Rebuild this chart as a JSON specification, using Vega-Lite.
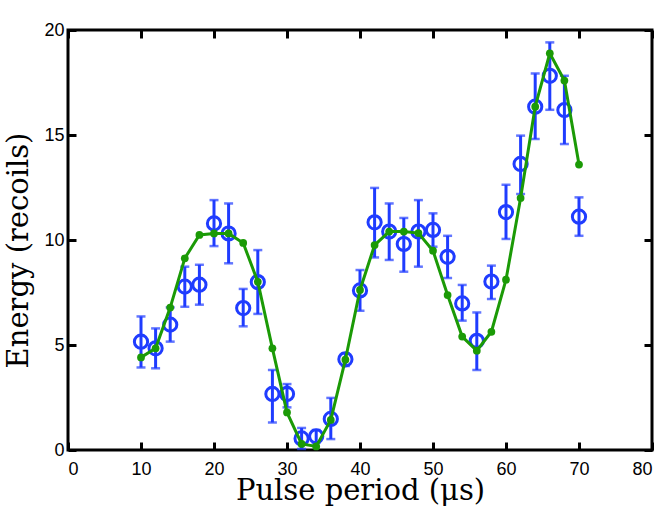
{
  "$schema": "https://vega.github.io/schema/vega-lite/v6.json",
  "width": 584,
  "height": 420,
  "autosize": {"type": "none"},
  "padding": {"left": 68, "top": 30, "right": 12, "bottom": 71},
  "background": "white",
  "config": {
    "view": {"stroke": "black", "strokeWidth": 3},
    "axis": {
      "domain": false,
      "grid": false,
      "ticks": true,
      "tickColor": "black",
      "tickWidth": 3,
      "tickSize": 8,
      "labelFont": "Liberation Sans",
      "labelFontSize": 18,
      "labelColor": "black",
      "titleFont": "DejaVu Serif",
      "titleFontSize": 29,
      "titleFontWeight": "normal",
      "titleColor": "black"
    }
  },
  "data": {
    "values": [
      {"x": 10, "e": 5.16, "lo": 3.93, "hi": 6.36, "fit": 4.41},
      {"x": 12, "e": 4.84, "lo": 3.89, "hi": 5.79, "fit": 4.84},
      {"x": 14, "e": 5.97, "lo": 5.16, "hi": 6.79, "fit": 6.78},
      {"x": 16, "e": 7.78, "lo": 6.82, "hi": 8.73, "fit": 9.13},
      {"x": 18, "e": 7.87, "lo": 6.92, "hi": 8.82, "fit": 10.24},
      {"x": 20, "e": 10.79, "lo": 9.71, "hi": 11.9, "fit": 10.31},
      {"x": 22, "e": 10.31, "lo": 8.89, "hi": 11.74, "fit": 10.31},
      {"x": 24, "e": 6.76, "lo": 5.89, "hi": 7.67, "fit": 9.86},
      {"x": 26, "e": 8.0, "lo": 6.48, "hi": 9.52, "fit": 8.01},
      {"x": 28, "e": 2.67, "lo": 1.31, "hi": 3.81, "fit": 4.84},
      {"x": 30, "e": 2.67, "lo": 2.03, "hi": 3.14, "fit": 1.79},
      {"x": 32, "e": 0.55, "lo": 0.05, "hi": 1.05, "fit": 0.29},
      {"x": 34, "e": 0.65, "lo": 0.35, "hi": 0.95, "fit": 0.17},
      {"x": 36, "e": 1.48, "lo": 0.52, "hi": 2.48, "fit": 1.43},
      {"x": 38, "e": 4.32, "lo": 4.0, "hi": 4.6, "fit": 4.3},
      {"x": 40, "e": 7.6, "lo": 6.63, "hi": 8.57, "fit": 7.62},
      {"x": 42, "e": 10.84, "lo": 9.17, "hi": 12.48, "fit": 9.76},
      {"x": 44, "e": 10.4, "lo": 9.05, "hi": 11.74, "fit": 10.4},
      {"x": 46, "e": 9.81, "lo": 8.49, "hi": 11.05, "fit": 10.4},
      {"x": 48, "e": 10.4, "lo": 8.73, "hi": 11.9, "fit": 10.33},
      {"x": 50, "e": 10.48, "lo": 9.68, "hi": 11.27, "fit": 9.49},
      {"x": 52, "e": 9.2, "lo": 8.19, "hi": 10.2, "fit": 7.38},
      {"x": 54, "e": 6.98, "lo": 6.16, "hi": 7.86, "fit": 5.4},
      {"x": 56, "e": 5.2, "lo": 3.81, "hi": 6.55, "fit": 4.73},
      {"x": 58, "e": 8.02, "lo": 7.19, "hi": 8.78, "fit": 5.63},
      {"x": 60, "e": 11.33, "lo": 10.05, "hi": 12.63, "fit": 8.11},
      {"x": 62, "e": 13.62, "lo": 12.19, "hi": 14.97, "fit": 12.0},
      {"x": 64, "e": 16.35, "lo": 14.81, "hi": 17.93, "fit": 16.35},
      {"x": 66, "e": 17.82, "lo": 16.2, "hi": 19.41, "fit": 18.89},
      {"x": 68, "e": 16.19, "lo": 14.57, "hi": 17.82, "fit": 17.59},
      {"x": 70, "e": 11.11, "lo": 10.2, "hi": 12.03, "fit": 13.59}
    ]
  },
  "layer": [
    {
      "mark": {"type": "rule", "color": "#1f3cff", "strokeWidth": 3},
      "encoding": {
        "x": {
          "field": "x",
          "type": "quantitative",
          "scale": {"domain": [0, 80], "nice": false},
          "axis": {
            "orient": "bottom",
            "offset": -8,
            "values": [0, 10, 20, 30, 40, 50, 60, 70, 80],
            "labelPadding": 10,
            "title": "Pulse period (μs)",
            "titleY": 57,
            "titleBaseline": "alphabetic"
          }
        },
        "y": {
          "field": "lo",
          "type": "quantitative",
          "scale": {"domain": [0, 20], "nice": false},
          "axis": {
            "orient": "left",
            "offset": -8,
            "values": [0, 5, 10, 15, 20],
            "labelPadding": 4,
            "title": "Energy (recoils)",
            "titleX": -49,
            "titleY": 220,
            "titleBaseline": "alphabetic"
          }
        },
        "y2": {"field": "hi"}
      }
    },
    {
      "mark": {"type": "tick", "orient": "horizontal", "color": "#1f3cff", "size": 9, "thickness": 2.5},
      "encoding": {
        "x": {
          "field": "x",
          "type": "quantitative",
          "axis": {"orient": "top", "offset": -8, "values": [0, 10, 20, 30, 40, 50, 60, 70, 80], "labels": false, "title": null}
        },
        "y": {
          "field": "lo",
          "type": "quantitative",
          "axis": {"orient": "right", "offset": -8, "values": [0, 5, 10, 15, 20], "labels": false, "title": null}
        }
      }
    },
    {
      "mark": {"type": "tick", "orient": "horizontal", "color": "#1f3cff", "size": 9, "thickness": 2.5},
      "encoding": {
        "x": {"field": "x", "type": "quantitative", "axis": null},
        "y": {"field": "hi", "type": "quantitative", "axis": null}
      }
    },
    {
      "mark": {"type": "point", "shape": "circle", "filled": false, "color": "#1f3cff", "size": 175, "strokeWidth": 3, "opacity": 1},
      "encoding": {
        "x": {"field": "x", "type": "quantitative", "axis": null},
        "y": {"field": "e", "type": "quantitative", "axis": null}
      }
    },
    {
      "mark": {"type": "line", "color": "#1b9a06", "strokeWidth": 3, "point": {"filled": true, "color": "#1b9a06", "size": 60, "opacity": 1}},
      "encoding": {
        "x": {"field": "x", "type": "quantitative", "axis": null},
        "y": {"field": "fit", "type": "quantitative", "axis": null}
      }
    }
  ]
}
